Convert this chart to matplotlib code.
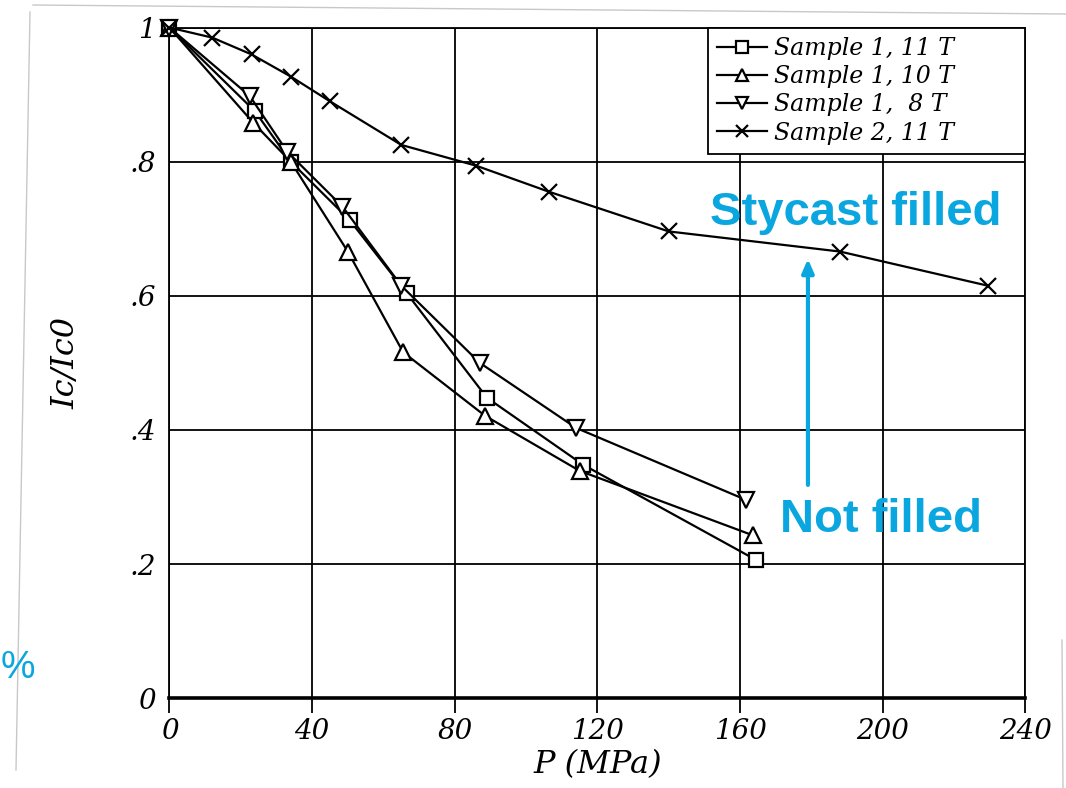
import matplotlib
matplotlib.use("Agg")
import matplotlib.pyplot as plt
from matplotlib.lines import Line2D

# pressure (MPa) and normalised critical current for each run
p_s1_11 = [0, 24, 34, 50.5, 66.5, 89, 116, 164.5]
ic_s1_11 = [1.0, 0.875, 0.80, 0.713, 0.604, 0.448, 0.348, 0.206]

p_s1_10 = [0, 23.5, 34, 50, 65.5, 88.5, 115, 163.5]
ic_s1_10 = [1.0, 0.858, 0.80, 0.666, 0.516, 0.421, 0.339, 0.243]

p_s1_8 = [0, 22.5, 33, 48.5, 65, 87, 114, 161.5]
ic_s1_8 = [1.0, 0.898, 0.815, 0.733, 0.615, 0.50, 0.403, 0.296]

p_s2_11 = [0, 12, 23, 34, 45, 65, 86, 106.5, 140, 188, 229.5]
ic_s2_11 = [1.0, 0.985, 0.96, 0.927, 0.89, 0.825, 0.794, 0.755, 0.696, 0.666, 0.615]

x_ticks = [0, 40, 80, 120, 160, 200, 240]
y_ticks = [0, 0.2, 0.4, 0.6, 0.8, 1.0]
y_tick_labels = ["0", ".2", ".4", ".6", ".8", "1"]

blue = "#0aa6e0"
serif_it = dict(family="DejaVu Serif", style="italic")

fig = plt.figure(figsize=(10.66, 7.88), dpi=100)
ax = fig.add_axes([0.159, 0.114, 0.803, 0.851])

kw = dict(color="black", lw=1.6, markerfacecolor="white",
          markeredgecolor="black", markeredgewidth=1.6, clip_on=False, zorder=3)
ax.plot(p_s1_11, ic_s1_11, marker="s", ms=10, label="Sample 1, 11 T", **kw)
ax.plot(p_s1_10, ic_s1_10, marker="^", ms=11, label="Sample 1, 10 T", **kw)
ax.plot(p_s1_8, ic_s1_8, marker="v", ms=11, label="Sample 1,  8 T", **kw)
ax.plot(p_s2_11, ic_s2_11, marker="x", ms=11, label="Sample 2, 11 T", **kw)

ax.set_xlim(0, 240)
ax.set_ylim(0, 1)
ax.set_xticks(x_ticks)
ax.set_yticks(y_ticks)
ax.set_yticklabels(y_tick_labels)
ax.grid(True, color="black", lw=1.3)
ax.set_axisbelow(True)
for side in ["left", "top", "right"]:
    ax.spines[side].set_linewidth(1.3)
ax.spines["bottom"].set_linewidth(2.6)
ax.tick_params(axis="x", direction="out", length=11, width=1.3, pad=3)
ax.tick_params(axis="y", length=0, pad=10)
for lab in ax.get_xticklabels() + ax.get_yticklabels():
    lab.set_fontsize(20)
    lab.set_fontstyle("italic")
    lab.set_family("DejaVu Serif")

ax.set_xlabel("P (MPa)", fontsize=23, labelpad=3, **serif_it)
ax.set_ylabel("Ic/Ic0", fontsize=23, labelpad=34, **serif_it)

# legend box stretched over the upper right corner, entries left-aligned
leg = ax.legend(loc="upper left", bbox_to_anchor=(0.629, 0.0, 0.371, 1.0),
                mode="expand", fancybox=False,
                edgecolor="black", framealpha=1, borderaxespad=0.0,
                handlelength=2.1, handletextpad=0.3, labelspacing=0.22,
                borderpad=0.4, markerscale=0.8,
                prop=dict(family="DejaVu Serif", style="italic", size=17))
leg.get_frame().set_linewidth(1.3)

# annotations for the two sample types
ax.text(192.5, 0.723, "Stycast filled", color=blue, fontsize=34, fontweight="bold",
        family="Liberation Sans", ha="center", va="center", zorder=5)
ax.text(199.5, 0.265, "Not filled", color=blue, fontsize=34, fontweight="bold",
        family="Liberation Sans", ha="center", va="center", zorder=5)
ax.annotate("", xy=(179, 0.655), xytext=(179, 0.318),
            arrowprops=dict(arrowstyle="-|>,head_width=0.35,head_length=0.8",
                            color=blue, lw=3, shrinkA=0, shrinkB=0), zorder=5)

fig.text(0.001, 0.152, "%", color=blue, fontsize=28, family="Liberation Sans",
         ha="left", va="center")

# faint edges of the pasted scan
edge = "#c8c8c8"
fig.add_artist(Line2D([30 / 1066, 16 / 1066], [1 - 12 / 788, 1 - 770 / 788],
                      color=edge, lw=1))
fig.add_artist(Line2D([33 / 1066, 1066 / 1066], [1 - 5 / 788, 1 - 14 / 788],
                      color=edge, lw=1))
fig.add_artist(Line2D([1062 / 1066, 1063 / 1066], [1 - 640 / 788, 1 - 788 / 788],
                      color=edge, lw=1))

fig.savefig("out.png", dpi=100)
